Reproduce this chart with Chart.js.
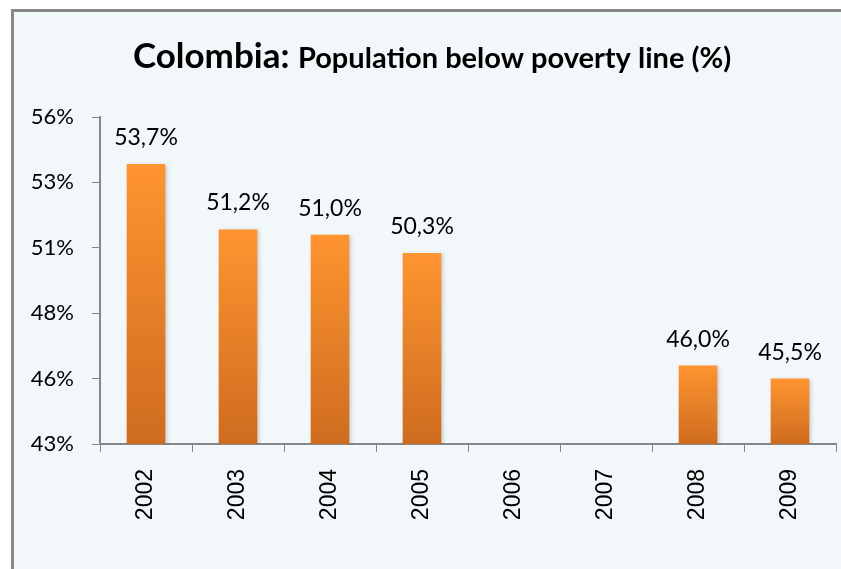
<!DOCTYPE html>
<html>
<head>
<meta charset="utf-8">
<script src="https://cdn.jsdelivr.net/npm/chart.js@4"></script>
<style>
  html, body { margin: 0; padding: 0; background: #fff; overflow: hidden; }
  #poverty { display: block; }
</style>
</head>
<body>
<canvas id="poverty" width="841" height="569"></canvas>
<script>
// data
const years = ['2002', '2003', '2004', '2005', '2006', '2007', '2008', '2009'];
const povertyRate = [53.7, 51.2, 51.0, 50.3, null, null, 46.0, 45.5];
const axisMin = 43;
const axisMax = 55.5;
const axisStep = 2.5;

const gray = '#868686';

// light panel with a gray frame on the left and top
const framePlugin = {
    id: 'frame',
    beforeDraw(chart) {
        const ctx = chart.ctx;
        ctx.save();
        ctx.fillStyle = '#fff';
        ctx.fillRect(0, 0, chart.width, chart.height);
        ctx.fillStyle = '#F2F7FA';
        ctx.fillRect(14, 12, chart.width - 14, chart.height - 12);
        ctx.fillStyle = '#878787';
        ctx.fillRect(11, 9, 3, chart.height - 9);
        ctx.fillRect(11, 9, chart.width - 11, 3);
        ctx.restore();
    }
};

// bars get a shadow like the excel original
const shadowPlugin = {
    id: 'barShadow',
    beforeDatasetsDraw(chart) {
        const ctx = chart.ctx;
        ctx.save();
        ctx.shadowColor = 'rgba(0,0,0,0.18)';
        ctx.shadowBlur = 4;
        ctx.shadowOffsetX = 2;
        ctx.shadowOffsetY = 1;
    },
    afterDatasetsDraw(chart) {
        chart.ctx.restore();
    }
};

const valueLabels = {
    id: 'valueLabels',
    afterDatasetsDraw(chart) {
        const ctx = chart.ctx;
        const meta = chart.getDatasetMeta(0);
        ctx.save();
        ctx.fillStyle = '#000';
        ctx.font = '23px Lato';
        ctx.textAlign = 'center';
        ctx.textBaseline = 'alphabetic';
        meta.data.forEach((bar, i) => {
            const v = povertyRate[i];
            if (v === null) return;
            ctx.fillText(v.toFixed(1).replace('.', ',') + '%', bar.x, bar.y - 19);
        });
        ctx.restore();
    }
};

// title has two sizes so draw it by hand
const titlePlugin = {
    id: 'mixedTitle',
    afterDraw(chart) {
        const ctx = chart.ctx;
        const big = 'Colombia: ';
        const small = 'Population below poverty line (%)';
        ctx.save();
        ctx.fillStyle = '#000';
        ctx.textBaseline = 'alphabetic';
        ctx.textAlign = 'left';
        ctx.font = 'bold 35px Lato';
        const w1 = ctx.measureText(big).width;
        ctx.font = 'bold 29px Lato';
        const w2 = ctx.measureText(small).width;
        let x = 432 - (w1 + w2) / 2;
        ctx.font = 'bold 35px Lato';
        ctx.fillText(big, x, 68);
        ctx.font = 'bold 29px Lato';
        ctx.fillText(small, x + w1, 68);
        ctx.restore();
    }
};

const ctx = document.getElementById('poverty').getContext('2d');
new Chart(ctx, {
    type: 'bar',
    data: {
        labels: years,
        datasets: [{
            data: povertyRate,
            backgroundColor(context) {
                const chart = context.chart;
                const area = chart.chartArea;
                const v = povertyRate[context.dataIndex];
                if (!area || v === null) return '#F08A2C';
                const yScale = chart.scales.y;
                const g = chart.ctx.createLinearGradient(0, yScale.getPixelForValue(v), 0, area.bottom);
                g.addColorStop(0, '#FF9430');
                g.addColorStop(1, '#CE6C1F');
                return g;
            },
            borderWidth: 0,
            barPercentage: 0.42,
            categoryPercentage: 1
        }]
    },
    options: {
        responsive: false,
        animation: false,
        devicePixelRatio: 1,
        layout: { padding: { top: 117, left: 0, right: 5, bottom: 0 } },
        plugins: {
            legend: { display: false },
            title: { display: false },
            tooltip: { enabled: false }
        },
        scales: {
            x: {
                grid: { drawOnChartArea: false, color: gray, tickLength: 8, offset: true },
                border: { color: gray, width: 2 },
                ticks: {
                    color: '#000',
                    font: { family: 'Liberation Sans', size: 23 },
                    minRotation: 90,
                    maxRotation: 90,
                    padding: 17
                },
                afterFit(s) { s.height = 125; }
            },
            y: {
                min: axisMin,
                max: axisMax,
                grid: { drawOnChartArea: false, color: gray, tickLength: 8 },
                border: { color: gray, width: 2 },
                ticks: {
                    stepSize: axisStep,
                    color: '#000',
                    font: { family: 'Lato', size: 22 },
                    padding: 18,
                    callback: v => Math.round(v) + '%'
                },
                afterFit(s) { s.width = 100; }
            }
        }
    },
    plugins: [framePlugin, shadowPlugin, valueLabels, titlePlugin]
});
</script>
</body>
</html>
